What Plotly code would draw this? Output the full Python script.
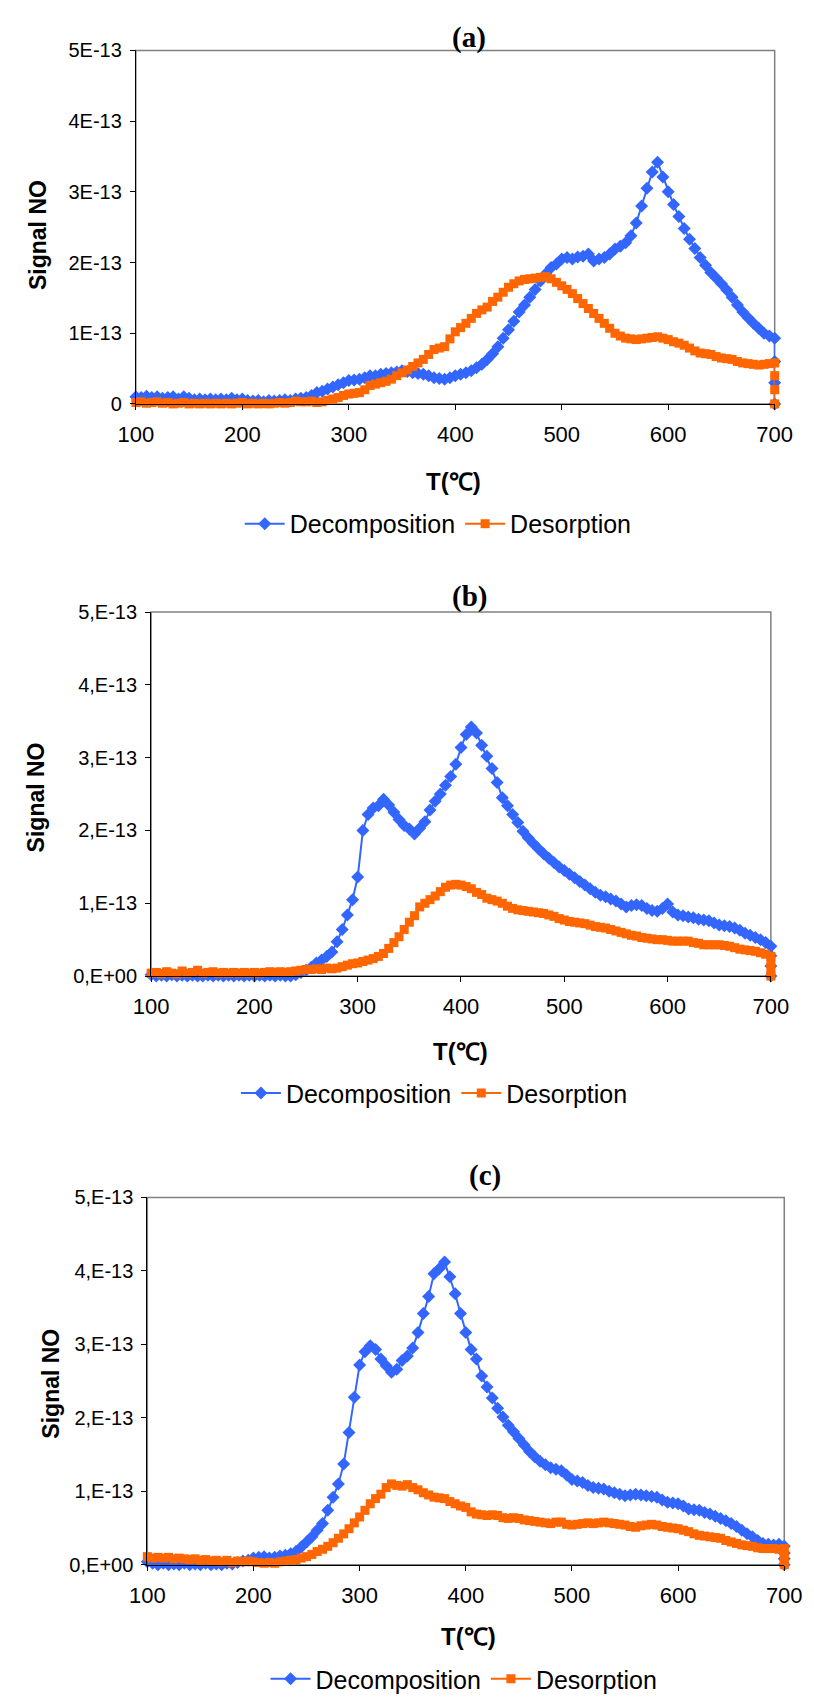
import plotly.graph_objects as go

W, H = 814, 1702

# ---------------- DATA (signal in units of 1E-13) ----------------
temps = list(range(100, 705, 5))

a_decomp = [0.10, 0.09, 0.11, 0.09, 0.10, 0.08, 0.09, 0.10, 0.07, 0.10,
            0.08, 0.06, 0.07, 0.06, 0.07, 0.06, 0.07, 0.06, 0.08, 0.06,
            0.07, 0.05, 0.04, 0.05, 0.03, 0.05, 0.04, 0.05, 0.06, 0.05,
            0.07, 0.08, 0.09, 0.12, 0.16, 0.18, 0.21, 0.24, 0.27, 0.30,
            0.33, 0.34, 0.35, 0.37, 0.40, 0.40, 0.42, 0.43, 0.44, 0.45,
            0.47, 0.46, 0.44, 0.43, 0.42, 0.40, 0.37, 0.36, 0.35, 0.37,
            0.40, 0.42, 0.44, 0.47, 0.51, 0.56, 0.63, 0.71, 0.81, 0.93,
            1.05, 1.17, 1.30, 1.40, 1.51, 1.62, 1.74, 1.84, 1.93, 1.98,
            2.05, 2.07, 2.05, 2.08, 2.09, 2.12, 2.02, 2.05, 2.07, 2.12,
            2.19, 2.23, 2.28, 2.38, 2.56, 2.80, 3.05, 3.28, 3.42, 3.21,
            3.00, 2.82, 2.65, 2.48, 2.33, 2.20, 2.07, 1.96, 1.86, 1.78,
            1.70, 1.61, 1.51, 1.40, 1.30, 1.22, 1.14, 1.07, 1.00, 0.96,
            0.93]
a_desorp = [0.02, 0.03, 0.01, 0.02, 0.03, 0.01, 0.02, 0.00, 0.01, 0.02,
            0.00, 0.01, 0.00, 0.01, 0.00, 0.01, 0.00, 0.01, 0.00, 0.01,
            0.02, 0.00, 0.01, 0.00, 0.01, 0.00, 0.01, 0.02, 0.01, 0.02,
            0.04, 0.03, 0.03, 0.04, 0.02, 0.03, 0.05, 0.07, 0.09, 0.12,
            0.14, 0.15, 0.16, 0.20, 0.26, 0.28, 0.30, 0.32, 0.35, 0.40,
            0.44, 0.48, 0.53, 0.58, 0.63, 0.70, 0.77, 0.79, 0.81, 0.92,
            1.02, 1.08, 1.14, 1.21, 1.28, 1.33, 1.37, 1.45, 1.51, 1.58,
            1.65, 1.70, 1.74, 1.76, 1.77, 1.78, 1.79, 1.80, 1.77, 1.72,
            1.67, 1.62, 1.56, 1.49, 1.42, 1.35, 1.28, 1.21, 1.14, 1.07,
            1.00, 0.96, 0.93, 0.92, 0.91, 0.92, 0.93, 0.94, 0.95, 0.93,
            0.91, 0.88, 0.86, 0.83, 0.79, 0.75, 0.72, 0.71, 0.70, 0.67,
            0.65, 0.64, 0.63, 0.60, 0.58, 0.57, 0.56, 0.55, 0.56, 0.57,
            0.58]

b_decomp = [0.02, 0.00, 0.01, 0.00, 0.02, 0.00, 0.01, 0.00, 0.01, 0.00,
            0.00, 0.01, 0.00, 0.01, 0.00, 0.01, 0.00, 0.01, 0.00, 0.01,
            0.00, 0.01, 0.00, 0.01, 0.00, 0.01, 0.00, 0.00, 0.02, 0.05,
            0.08, 0.12, 0.18, 0.22, 0.27, 0.33, 0.47, 0.64, 0.84, 1.05,
            1.36, 2.00, 2.22, 2.31, 2.34, 2.43, 2.35, 2.25, 2.15, 2.07,
            2.02, 1.95, 2.03, 2.12, 2.28, 2.40, 2.50, 2.62, 2.74, 2.91,
            3.14, 3.32, 3.42, 3.34, 3.17, 3.02, 2.85, 2.66, 2.45, 2.34,
            2.22, 2.11, 1.99, 1.90, 1.82, 1.75, 1.68, 1.62, 1.56, 1.50,
            1.45, 1.40, 1.35, 1.30, 1.25, 1.20, 1.15, 1.11, 1.09, 1.06,
            1.03, 0.99, 0.95, 0.97, 0.98, 0.97, 0.93, 0.90, 0.89, 0.93,
            0.99, 0.88, 0.84, 0.83, 0.81, 0.80, 0.78, 0.77, 0.76, 0.73,
            0.70, 0.69, 0.68, 0.66, 0.63, 0.59, 0.56, 0.53, 0.50, 0.46,
            0.41]
b_desorp = [0.04, 0.05, 0.03, 0.06, 0.04, 0.03, 0.07, 0.04, 0.05, 0.08,
            0.04, 0.05, 0.06, 0.04, 0.05, 0.04, 0.05, 0.04, 0.05, 0.04,
            0.05, 0.04, 0.05, 0.06, 0.05, 0.06, 0.05, 0.06, 0.07, 0.08,
            0.09, 0.09, 0.10, 0.09, 0.11, 0.10, 0.11, 0.13, 0.15, 0.17,
            0.18, 0.20, 0.22, 0.24, 0.27, 0.31, 0.38, 0.46, 0.54, 0.64,
            0.74, 0.83, 0.95, 1.00, 1.05, 1.10, 1.16, 1.22, 1.25, 1.26,
            1.25, 1.23, 1.20, 1.15, 1.12, 1.07, 1.05, 1.03, 1.00, 0.96,
            0.93, 0.91, 0.90, 0.89, 0.88, 0.87, 0.86, 0.84, 0.82, 0.79,
            0.77, 0.75, 0.74, 0.73, 0.72, 0.70, 0.68, 0.67, 0.66, 0.64,
            0.62, 0.60, 0.58, 0.56, 0.55, 0.53, 0.52, 0.51, 0.50, 0.50,
            0.49, 0.48, 0.48, 0.48, 0.48, 0.46, 0.45, 0.43, 0.43, 0.43,
            0.43, 0.42, 0.41, 0.39, 0.37, 0.36, 0.35, 0.34, 0.32, 0.30,
            0.27]

c_decomp = [0.04, 0.02, 0.00, 0.02, 0.00, 0.01, 0.00, 0.02, 0.00, 0.01,
            0.00, 0.02, 0.00, 0.01, 0.00, 0.02, 0.01, 0.03, 0.05, 0.06,
            0.09, 0.10, 0.11, 0.09, 0.10, 0.12, 0.13, 0.15, 0.18, 0.24,
            0.31, 0.38, 0.47, 0.56, 0.74, 0.92, 1.10, 1.37, 1.80, 2.28,
            2.72, 2.90, 2.98, 2.93, 2.80, 2.71, 2.62, 2.66, 2.78, 2.84,
            2.95, 3.16, 3.42, 3.65, 3.96, 4.03, 4.12, 3.92, 3.69, 3.42,
            3.16, 2.93, 2.80, 2.57, 2.42, 2.27, 2.13, 2.01, 1.90, 1.81,
            1.72, 1.63, 1.54, 1.47, 1.41, 1.36, 1.32, 1.30, 1.28, 1.22,
            1.16, 1.14, 1.12, 1.08, 1.05, 1.04, 1.03, 1.00, 0.98, 0.96,
            0.94, 0.95, 0.96, 0.95, 0.94, 0.93, 0.92, 0.88, 0.85, 0.84,
            0.83, 0.80, 0.76, 0.75, 0.74, 0.71, 0.69, 0.66, 0.63, 0.60,
            0.56, 0.52, 0.47, 0.42, 0.38, 0.33, 0.29, 0.28, 0.27, 0.28,
            0.25]
c_desorp = [0.11, 0.09, 0.10, 0.09, 0.10, 0.08, 0.09, 0.08, 0.07, 0.08,
            0.06, 0.07, 0.05, 0.06, 0.04, 0.06, 0.03, 0.05, 0.04, 0.05,
            0.04, 0.03, 0.02, 0.03, 0.02, 0.04, 0.05, 0.06, 0.07, 0.09,
            0.11, 0.14, 0.18, 0.21, 0.25, 0.30, 0.36, 0.42, 0.49, 0.57,
            0.65, 0.74, 0.83, 0.90, 0.96, 1.05, 1.10, 1.08, 1.07, 1.09,
            1.05, 1.02, 0.98, 0.95, 0.92, 0.91, 0.90, 0.86, 0.83, 0.80,
            0.78, 0.72, 0.69, 0.68, 0.67, 0.68, 0.67, 0.64, 0.63, 0.64,
            0.63, 0.61, 0.60, 0.59, 0.58, 0.57, 0.56, 0.58, 0.58, 0.55,
            0.54, 0.55, 0.56, 0.57, 0.56, 0.57, 0.58, 0.57, 0.56, 0.55,
            0.54, 0.52, 0.51, 0.53, 0.54, 0.55, 0.54, 0.52, 0.51, 0.50,
            0.49, 0.47, 0.45, 0.42, 0.40, 0.39, 0.38, 0.37, 0.36, 0.33,
            0.31, 0.29, 0.27, 0.26, 0.25, 0.23, 0.22, 0.22, 0.22, 0.21,
            0.22]

# final vertical drop of each record at 700 °C
drop_T = [700, 700, 700]
a_decomp_drop = [0.60, 0.30, 0.00]
a_desorp_drop = [0.40, 0.20, 0.00]
b_decomp_drop = [0.28, 0.14, 0.00]
b_desorp_drop = [0.18, 0.09, 0.00]
c_decomp_drop = [0.16, 0.08, 0.00]
c_desorp_drop = [0.14, 0.07, 0.00]

x_ticks = [100, 200, 300, 400, 500, 600, 700]
y_ticks = [0, 1, 2, 3, 4, 5]
y_text_a = ["0", "1E-13", "2E-13", "3E-13", "4E-13", "5E-13"]
y_text_bc = ["0,E+00", "1,E-13", "2,E-13", "3,E-13", "4,E-13", "5,E-13"]
panel_titles = ["(a)", "(b)", "(c)"]
series_names = ["Decomposition", "Desorption"]

# ---------------- LAYOUT (pixel geometry) ----------------
panels = [
    dict(l=123.3, r=791.7, t=40.0, b=398.3,
         data=(a_decomp + a_decomp_drop, a_desorp + a_desorp_drop), ytext=y_text_a,
         title=(472, 27), xt=(456, 477), yt=(21, 227), leg=(232, 520)),
    dict(l=139.3, r=787.7, t=609.3, b=978.3,
         data=(b_decomp + b_decomp_drop, b_desorp + b_desorp_drop), ytext=y_text_bc,
         title=(472, 594), xt=(463, 1055), yt=(19, 797), leg=(228, 1097)),
    dict(l=135.3, r=801.7, t=1202.7, b=1575.0,
         data=(c_decomp + c_decomp_drop, c_desorp + c_desorp_drop), ytext=y_text_bc,
         title=(489, 1180), xt=(471, 1648), yt=(35, 1391), leg=(259, 1691)),
]

BLUE = "#3366FF"
ORANGE = "#FF6600"
SANS = "Liberation Sans, Arial, sans-serif"
SERIF = "Liberation Serif, Times New Roman, serif"

fig = go.Figure()
annotations = []
shapes = []
layout = dict(width=W, height=H, autosize=False, margin=dict(l=0, r=0, t=0, b=0),
              paper_bgcolor="white", plot_bgcolor="white", showlegend=True)

for i, p in enumerate(panels):
    n = "" if i == 0 else str(i + 1)
    xa, ya = "x" + n, "y" + n
    leg = "legend" + n
    dec, des = p["data"]
    xs = temps + drop_T
    fig.add_trace(go.Scatter(x=xs, y=[v * 1e-13 for v in dec], mode="lines+markers",
                             name=series_names[0],
                             xaxis=xa, yaxis=ya, legend=leg, cliponaxis=False,
                             line=dict(color=BLUE, width=2),
                             marker=dict(symbol="diamond", size=10, color=BLUE)))
    fig.add_trace(go.Scatter(x=xs, y=[v * 1e-13 for v in des], mode="lines+markers",
                             name=series_names[1],
                             xaxis=xa, yaxis=ya, legend=leg, cliponaxis=False,
                             line=dict(color=ORANGE, width=2),
                             marker=dict(symbol="square", size=9, color=ORANGE)))

    layout["xaxis" + n] = dict(
        domain=[p["l"] / W, p["r"] / W], anchor=ya, range=[100, 700],
        tickvals=x_ticks, ticktext=[str(v) for v in x_ticks],
        ticks="outside", ticklen=5, tickcolor="black", showline=True, linecolor="black",
        linewidth=1, showgrid=False, zeroline=False, ticklabelstandoff=6,
        tickfont=dict(family=SANS, size=22, color="black"))
    layout["yaxis" + n] = dict(
        domain=[1 - p["b"] / H, 1 - p["t"] / H], anchor=xa, range=[0, 5e-13],
        tickvals=[v * 1e-13 for v in y_ticks], ticktext=p["ytext"],
        ticks="outside", ticklen=5, tickcolor="black", showline=True, linecolor="black",
        linewidth=1, showgrid=False, zeroline=False, ticklabelstandoff=4,
        tickfont=dict(family=SANS, size=20, color="black"))
    layout[leg] = dict(orientation="h", x=p["leg"][0] / W, y=1 - p["leg"][1] / H,
                       xanchor="left", yanchor="middle", bgcolor="rgba(0,0,0,0)",
                       font=dict(family=SANS, size=25, color="black"),
                       itemwidth=40, tracegroupgap=0)
    shapes.append(dict(type="rect", xref=xa + " domain", yref=ya + " domain",
                       x0=0, x1=1, y0=0, y1=1, line=dict(color="#808080", width=1.5),
                       layer="below"))
    annotations.append(dict(text="<b>" + panel_titles[i] + "</b>", x=p["title"][0] / W,
                            y=1 - p["title"][1] / H,
                            xref="paper", yref="paper", showarrow=False,
                            xanchor="center", yanchor="middle",
                            font=dict(family=SERIF, size=29, color="black")))
    annotations.append(dict(text="<b>T(℃)</b>", x=p["xt"][0] / W, y=1 - p["xt"][1] / H,
                            xref="paper", yref="paper", showarrow=False,
                            xanchor="center", yanchor="middle",
                            font=dict(family=SANS, size=24, color="black")))
    annotations.append(dict(text="<b>Signal NO</b>", x=p["yt"][0] / W, y=1 - p["yt"][1] / H,
                            xref="paper", yref="paper", showarrow=False, textangle=-90,
                            xanchor="center", yanchor="middle",
                            font=dict(family=SANS, size=23, color="black")))

layout["annotations"] = annotations
layout["shapes"] = shapes
fig.update_layout(**layout)
fig.write_html("out.html")
